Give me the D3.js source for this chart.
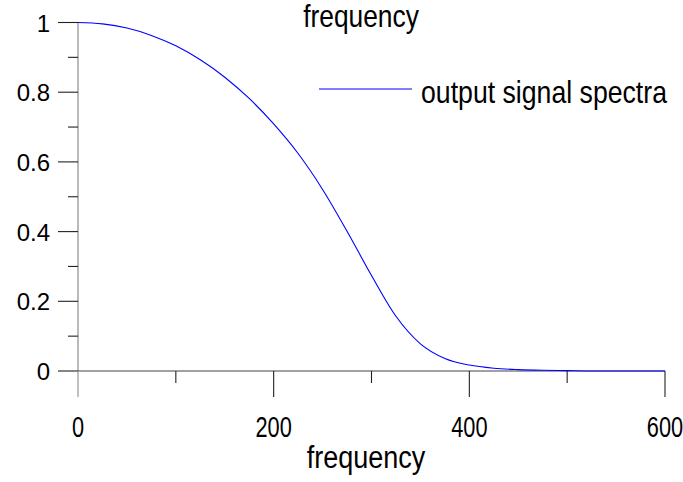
<!DOCTYPE html>
<html>
<head>
<meta charset="utf-8">
<script src="https://cdn.jsdelivr.net/npm/d3@7"></script>
<style>
  html, body { margin: 0; padding: 0; background: #fff; }
  svg { display: block; font-family: "Liberation Sans", Arial, sans-serif; }
</style>
</head>
<body>
<svg id="chart" width="683" height="482"></svg>
<script>
// Output signal spectrum, normalised magnitude sampled every 25 Hz
const frequency = [0, 25, 50, 75, 100, 125, 150, 175, 200, 225, 250, 275, 300,
  325, 350, 375, 400, 425, 450, 475, 500, 525, 550, 575, 600];
const spectrum = [1.000, 0.996, 0.984, 0.963, 0.933, 0.893, 0.843, 0.782, 0.709,
  0.624, 0.521, 0.401, 0.274, 0.157, 0.078, 0.036, 0.017, 0.008, 0.004, 0.002,
  0.001, 0.000, 0.000, 0.000, 0.000];

const xMajorTicks = [0, 200, 400, 600];
const xMinorTicks = [100, 300, 500];
const yMajorTicks = [0, 0.2, 0.4, 0.6, 0.8, 1];
const yMinorTicks = [0.1, 0.3, 0.5, 0.7, 0.9];
const yTickLabels = ["0", "0.2", "0.4", "0.6", "0.8", "1"];
const xLabel = "frequency";
const titleText = "frequency";
const seriesName = "output signal spectra";

const svg = d3.select("#chart");
const x = d3.scaleLinear().domain([0, 600]).range([78, 665]);
const y = d3.scaleLinear().domain([0, 1]).range([371, 22.5]);

// position a text at (px, py) and narrow it horizontally by k
const narrowAt = (px, py, k) => `translate(${px},${py}) scale(${k},1)`;

// y axis: line, major and minor ticks on the left
svg.append("line")
  .attr("x1", x(0)).attr("x2", x(0)).attr("y1", y(1)).attr("y2", y(0))
  .attr("stroke", "#8c8c8c").attr("stroke-width", 1.2);

svg.append("g").selectAll("line").data(yMajorTicks).join("line")
  .attr("x1", x(0) - 20).attr("x2", x(0))
  .attr("y1", d => y(d)).attr("y2", d => y(d))
  .attr("stroke", "#222").attr("stroke-width", 1.1);
svg.append("g").selectAll("line").data(yMinorTicks).join("line")
  .attr("x1", x(0) - 10).attr("x2", x(0))
  .attr("y1", d => y(d)).attr("y2", d => y(d))
  .attr("stroke", "#222").attr("stroke-width", 1.1);

svg.append("g").selectAll("text").data(yMajorTicks).join("text")
  .attr("x", 50).attr("y", d => y(d) + 9)
  .attr("text-anchor", "end")
  .attr("font-size", 24).attr("fill", "#000")
  .text((d, i) => yTickLabels[i]);

// x axis: line, major and minor ticks below
svg.append("line")
  .attr("x1", x(0)).attr("x2", x(600)).attr("y1", y(0)).attr("y2", y(0))
  .attr("stroke", "#444").attr("stroke-width", 1.2);

svg.append("g").selectAll("line").data(xMajorTicks).join("line")
  .attr("x1", d => x(d)).attr("x2", d => x(d))
  .attr("y1", y(0)).attr("y2", y(0) + 26)
  .attr("stroke", d => d === 0 ? "#8c8c8c" : "#222").attr("stroke-width", 1.1);
svg.append("g").selectAll("line").data(xMinorTicks).join("line")
  .attr("x1", d => x(d)).attr("x2", d => x(d))
  .attr("y1", y(0)).attr("y2", y(0) + 12)
  .attr("stroke", "#222").attr("stroke-width", 1.1);

svg.append("g").selectAll("text").data(xMajorTicks).join("text")
  .attr("transform", d => narrowAt(x(d), 436.5, 0.75))
  .attr("text-anchor", "middle")
  .attr("font-size", 29).attr("fill", "#000")
  .text(d => d);

// axis title and top caption
svg.append("text")
  .attr("transform", narrowAt(366, 468, 0.87))
  .attr("text-anchor", "middle")
  .attr("font-size", 31).attr("fill", "#000")
  .text(xLabel);

svg.append("text")
  .attr("transform", narrowAt(361, 27, 0.85))
  .attr("text-anchor", "middle")
  .attr("font-size", 31).attr("fill", "#000")
  .text(titleText);

// spectrum curve
const line = d3.line()
  .x((d, i) => x(frequency[i]))
  .y(d => y(d))
  .curve(d3.curveMonotoneX);

svg.append("path")
  .datum(spectrum)
  .attr("d", line)
  .attr("fill", "none")
  .attr("stroke", "#0000ff")
  .attr("stroke-width", 1.1);

// legend
const legend = svg.append("g");
legend.append("line")
  .attr("x1", 319).attr("x2", 412).attr("y1", 89).attr("y2", 89)
  .attr("stroke", "#0000ff").attr("stroke-width", 1.1);
legend.append("text")
  .attr("transform", narrowAt(421, 103, 0.86))
  .attr("font-size", 31).attr("fill", "#000")
  .text(seriesName);
</script>
</body>
</html>
